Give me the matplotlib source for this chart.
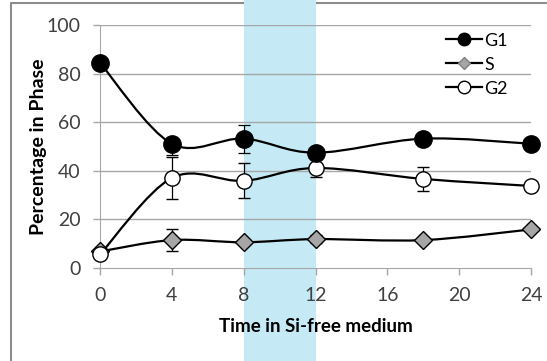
import numpy as np
import matplotlib
matplotlib.use("Agg")
import matplotlib.pyplot as plt
from matplotlib.path import Path
from matplotlib.patches import PathPatch
from matplotlib.lines import Line2D

plt.rcParams["font.family"] = ["Lato", "DejaVu Sans"]

# ---- data ----
hours = [0, 4, 8, 12, 18, 24]
g1 = [84.5, 51.2, 53.3, 47.5, 53.3, 51.2]
s_phase = [6.8, 11.5, 10.6, 11.9, 11.5, 15.9]
g2 = [5.6, 37.1, 35.9, 41.2, 36.7, 33.8]

g1_err_lo = [0, 4.8, 5.8, 1.5, 0, 0]
g1_err_hi = [0, 0, 5.5, 1.5, 0, 0]
s_err = [0, 4.5, 0, 1.8, 0, 0]
g2_err = [0, 8.6, 7.2, 3.6, 5.0, 0]

band = (8, 12)
xticks = [0, 4, 8, 12, 16, 20, 24]
yticks = [0, 20, 40, 60, 80, 100]

GRID = "#a6a6a6"
BAND = "#c5eaf6"


def smooth_path(x, y):
    """Excel-style smoothed line: Catmull-Rom segments as cubic Beziers."""
    p = np.column_stack([x, y]).astype(float)
    pts = np.vstack([p[0], p, p[-1]])
    verts = [p[0]]
    codes = [Path.MOVETO]
    for i in range(1, len(pts) - 2):
        p0, p1, p2, p3 = pts[i - 1], pts[i], pts[i + 1], pts[i + 2]
        verts += [p1 + (p2 - p0) / 6, p2 - (p3 - p1) / 6, p2]
        codes += [Path.CURVE4] * 3
    return Path(verts, codes)


fig = plt.figure(figsize=(5.47, 3.61), dpi=100)
ax = fig.add_axes([100 / 547, 1 - 268 / 361, 431 / 547, 242.7 / 361])
ax.set_facecolor("none")

# outer chart frame (only top/left edges fall inside the crop)
fx, fy = 11 / 547, 1 - 3 / 361
fig.add_artist(Line2D([fx, fx, 1.0], [0.0, fy, fy], transform=fig.transFigure,
                      color="#8c8c8c", lw=1.5, zorder=-1))

ax.axvspan(band[0], band[1], ymin=-0.5, ymax=1.5, color=BAND, lw=0,
           zorder=0, clip_on=False)

for yv in yticks[1:]:
    ax.axhline(yv, color=GRID, lw=1.0, zorder=1)

# smoothed connecting lines
for ys in (g1, s_phase, g2):
    ax.add_patch(PathPatch(smooth_path(hours, ys), fc="none", ec="black",
                           lw=1.6, zorder=2, clip_on=False))

# markers with error bars
ax.errorbar(hours, s_phase, yerr=s_err, fmt="D", ms=9, mfc="#a6a6a6",
            mec="black", mew=1.0, ecolor="black", elinewidth=0.9,
            capsize=4, capthick=0.9, zorder=3, clip_on=False)
ax.errorbar(hours, g2, yerr=g2_err, fmt="o", ms=11, mfc="white",
            mec="black", mew=1.0, ecolor="black", elinewidth=0.9,
            capsize=4, capthick=0.9, zorder=4, clip_on=False)
ax.errorbar(hours, g1, yerr=[g1_err_lo, g1_err_hi], fmt="o", ms=12.5,
            mfc="black", mec="black", ecolor="black", elinewidth=0.9,
            capsize=4, capthick=0.9, zorder=5, clip_on=False)

ax.set_xlim(0, 24)
ax.set_ylim(0, 100)
ax.set_xticks(xticks)
ax.set_yticks(yticks)
ax.tick_params(axis="both", colors=GRID, labelcolor="#404040",
               labelsize=14, length=5, width=1.0, direction="out")
ax.tick_params(axis="x", pad=9)
ax.tick_params(axis="y", pad=9)
for sp in ("top", "right"):
    ax.spines[sp].set_visible(False)
ax.spines["left"].set_color(GRID)
ax.spines["bottom"].set_color(GRID)
ax.spines["left"].set_zorder(1)

ax.set_xlabel("Time in Si-free medium", fontsize=13.5, fontweight="bold",
              labelpad=10)
ax.set_ylabel("Percentage in Phase", fontsize=14, fontweight="bold",
              labelpad=0)

handles = [
    Line2D([], [], color="black", lw=1.6, marker="o", ms=9, mfc="black",
           mec="black"),
    Line2D([], [], color="black", lw=1.6, marker="D", ms=6.5, mfc="#a6a6a6",
           mec="#808080"),
    Line2D([], [], color="black", lw=1.6, marker="o", ms=9, mfc="white",
           mec="black"),
]
ax.legend(handles, ["G1", "S", "G2"], loc="upper left",
          bbox_to_anchor=(0.785, 1.0), frameon=False, fontsize=13,
          handlelength=2.0, handletextpad=0.15, labelspacing=0.45,
          borderaxespad=0)

fig.savefig("out.png", dpi=100)
